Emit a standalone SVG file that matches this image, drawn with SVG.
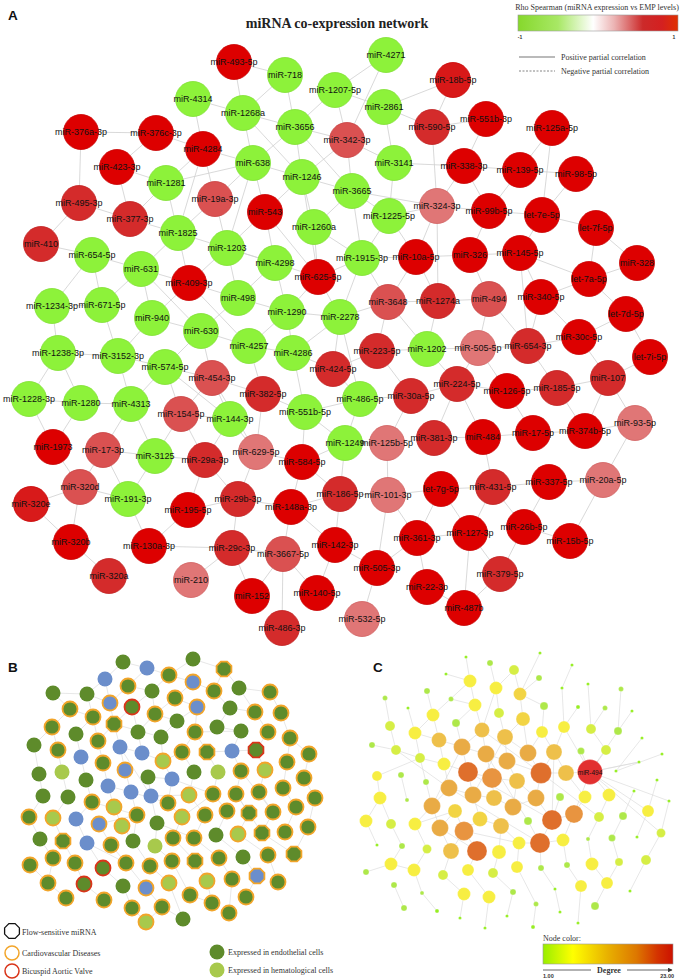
<svg xmlns="http://www.w3.org/2000/svg" xmlns:xlink="http://www.w3.org/1999/xlink" width="680" height="980" viewBox="0 0 680 980">
<defs>
<style>
.pl{font-family:"Liberation Sans",Arial,sans-serif;font-weight:bold;font-size:13.5px;fill:#111}
.ttl{font-family:"Liberation Serif","Times New Roman",serif;font-weight:bold;font-size:14px;fill:#222}
.leg{font-family:"Liberation Serif","Times New Roman",serif;font-size:8px;fill:#333}
.lbl{font-family:"Liberation Sans",Arial,sans-serif;font-size:9px;fill:#111;text-anchor:middle}
.ea{fill:none;stroke:#cfcfcf;stroke-width:0.8}
.eb{fill:none;stroke:#d6d6d6;stroke-width:0.6}
.ng circle{fill:#8df23a;stroke:#80e034;stroke-width:0.8}
.r1 circle{fill:#dd0000;stroke:#c80000;stroke-width:0.8}
.r2 circle{fill:#d42b2b;stroke:#c02020;stroke-width:0.8}
.r3 circle{fill:#da5151;stroke:#c84040;stroke-width:0.8}
.r4 circle{fill:#e07676;stroke:#d06060;stroke-width:0.8}
.bd{fill:#5e8b2b}
.bl{fill:#a8c94c}
.bu{fill:#6b8ecb}
.so{stroke:#f2a52a;stroke-width:1.8}
.sr{stroke:#d9351a;stroke-width:1.8}
.ct{fill:#96ee22}
.cg{fill:#aee84a}
.cy1{fill:#d6ee45}
.cy{fill:#f7ee42}
.cgl{fill:#f2d444}
.cgo{fill:#eec04a}
.cgd{fill:#e9ab45}
.co{fill:#e89440}
.cdo{fill:#df6f2c}
.cr{fill:#e23030}
.cn circle{stroke:#ffffff;stroke-opacity:0.4;stroke-width:0.6}
</style>
<linearGradient id="gA" x1="0" x2="1" y1="0" y2="0">
<stop offset="0" stop-color="#86d82c"/>
<stop offset="0.25" stop-color="#a8e865"/>
<stop offset="0.47" stop-color="#ffffff"/>
<stop offset="0.6" stop-color="#ecb4b4"/>
<stop offset="0.78" stop-color="#cc2a2a"/>
<stop offset="0.9" stop-color="#d42020"/>
<stop offset="1" stop-color="#e03000"/>
</linearGradient>
<linearGradient id="gC" x1="0" x2="1" y1="0" y2="0">
<stop offset="0" stop-color="#99ee00"/>
<stop offset="0.23" stop-color="#ffff00"/>
<stop offset="0.5" stop-color="#e8b000"/>
<stop offset="0.72" stop-color="#dd7700"/>
<stop offset="0.88" stop-color="#d43300"/>
<stop offset="1" stop-color="#cc1100"/>
</linearGradient>
<polygon id="oct" points="7.4,3.1 3.1,7.4 -3.1,7.4 -7.4,3.1 -7.4,-3.1 -3.1,-7.4 3.1,-7.4 7.4,-3.1"/>
<marker id="arr" viewBox="0 0 8 8" refX="7" refY="4" markerWidth="5" markerHeight="5" orient="auto"><path d="M0,0L8,4L0,8z" fill="#333"/></marker>
</defs>
<rect width="680" height="980" fill="#ffffff"/>

<text class="pl" x="8" y="20">A</text>
<text class="ttl" x="337" y="28" text-anchor="middle">miRNA co-expression network</text>
<g id="legendA">
<text class="leg" x="597" y="10" text-anchor="middle" font-size="7.5">Rho Spearman (miRNA expression vs EMP levels)</text>
<rect x="518" y="15" width="160" height="16" fill="url(#gA)" stroke="#999" stroke-width="0.6"/>
<text x="520" y="39" font-family="Liberation Sans,Arial,sans-serif" font-size="5" font-weight="bold" fill="#333" text-anchor="middle">-1</text>
<text x="674" y="39" font-family="Liberation Sans,Arial,sans-serif" font-size="5" font-weight="bold" fill="#333" text-anchor="middle">1</text>
<line x1="519" y1="57" x2="555" y2="57" stroke="#777" stroke-width="1.2"/>
<text class="leg" x="561" y="60">Positive partial correlation</text>
<line x1="519" y1="71" x2="555" y2="71" stroke="#777" stroke-width="0.9" stroke-dasharray="2,1.5"/>
<text class="leg" x="561" y="74">Negative partial correlation</text>
</g>

<g id="connectors">
<path class="ea" d="M234 62L243 113M234 62L285 75M285 75L295 127M285 75L243 113M193 99L243 113M193 99L203 149M243 113L253 163M243 113L295 127M243 113L302 177M335 90L295 127M335 90L384 107M335 90L347 140M386 55L335 90M386 55L347 140M295 127L347 140M295 127L253 163M295 127L302 177M295 127L352 191M81 132L156 133M81 132L79 203M156 133L117 167M156 133L203 149M117 167L130 219M117 167L166 183M203 149L166 183M203 149L215 199M203 149L253 163M253 163L302 177M253 163L265 212M253 163L215 199M302 177L314 227M302 177L352 191M302 177L265 212M347 140L394 163M347 140L352 191M347 140L302 177M384 107L432 127M384 107L394 163M394 163L389 216M394 163L464 166M352 191L389 216M352 191L314 227M352 191L437 206M453 80L432 127M453 80L384 107M432 127L437 206M486 119L464 166M486 119L432 127M552 128L542 215M552 128L520 170M464 166L520 170M464 166L437 206M464 166L489 211M520 170L489 211M520 170L576 174M576 174L542 215M489 211L437 206M489 211L542 215M542 215L596 228M542 215L520 253M489 211L470 255M437 206L416 257M437 206L389 216M389 216L362 258M389 216L416 257M314 227L362 258M314 227L318 277M265 212L318 277M265 212L275 263M265 212L227 248M215 199L227 248M215 199L178 233M166 183L178 233M166 183L130 219M130 219L79 203M130 219L178 233M79 203L41 244M41 244L92 255M92 255L141 269M92 255L52 306M92 255L102 305M178 233L141 269M178 233L189 283M227 248L189 283M227 248L275 263M227 248L238 298M275 263L238 298M275 263L318 277M275 263L287 312M318 277L362 258M318 277L340 317M318 277L287 312M362 258L416 257M362 258L388 302M362 258L340 317M416 257L470 255M416 257L388 302M416 257L438 301M470 255L520 253M470 255L489 299M520 253L541 297M520 253L589 279M596 228L637 263M596 228L589 279M637 263L589 279M589 279L626 314M589 279L541 297M541 297L579 337M541 297L528 346M626 314L579 337M626 314L650 357M579 337L608 378M650 357L608 378M608 378L635 423M608 378L557 388M608 378L585 431M579 337L528 346M528 346L557 388M528 346L478 348M489 299L478 348M489 299L438 301M489 299L528 346M438 301L388 302M438 301L427 349M388 302L377 351M388 302L340 317M340 317L287 312M340 317L293 353M340 317L333 369M287 312L238 298M287 312L249 346M287 312L293 353M238 298L201 331M238 298L189 283M189 283L141 269M189 283L152 318M141 269L152 318M141 269L102 305M102 305L52 306M102 305L118 356M52 306L58 353M58 353L118 356M58 353L29 399M58 353L81 403M118 356L152 318M118 356L165 367M118 356L131 404M152 318L201 331M201 331L165 367M201 331L249 346M201 331L212 378M249 346L293 353M249 346L263 394M293 353L333 369M293 353L305 412M333 369L377 351M333 369L360 399M377 351L427 349M377 351L411 396M427 349L478 348M427 349L457 384M478 348L457 384M478 348L507 391M457 384L411 396M457 384L507 391M457 384L434 438M507 391L557 388M507 391L533 433M557 388L585 431M585 431L635 423M585 431L533 433M635 423L603 480M533 433L483 437M483 437L434 438M483 437L493 487M434 438L387 443M411 396L360 399M411 396L387 443M360 399L345 443M360 399L305 412M345 443L387 443M345 443L305 412M345 443L302 462M345 443L340 494M305 412L263 394M305 412L302 462M263 394L212 378M263 394L256 452M212 378L165 367M212 378L181 414M212 378L230 419M165 367L131 404M165 367L181 414M131 404L81 403M131 404L103 450M131 404L155 456M81 403L29 399M81 403L53 447M29 399L53 447M181 414L230 419M181 414L155 456M181 414L205 460M230 419L256 452M230 419L205 460M256 452L302 462M256 452L238 499M302 462L291 507M302 462L340 494M103 450L155 456M103 450L80 487M103 450L128 499M53 447L80 487M155 456L128 499M155 456L205 460M205 460L188 510M205 460L238 499M238 499L188 510M238 499L291 507M238 499L232 548M291 507L340 494M291 507L283 554M291 507L335 545M340 494L388 495M340 494L335 545M387 443L388 495M388 495L441 489M388 495L377 568M388 495L417 538M441 489L493 487M441 489L417 538M441 489L470 533M493 487L549 482M493 487L470 533M493 487L524 527M549 482L603 480M549 482L524 527M603 480L570 541M524 527L570 541M524 527L500 574M470 533L500 574M470 533L417 538M470 533L464 608M417 538L427 587M417 538L377 568M427 587L464 608M377 568L362 619M377 568L335 545M335 545L317 593M283 554L317 593M283 554L282 628M283 554L232 548M283 554L252 596M232 548L191 580M232 548L149 546M188 510L149 546M149 546L128 499M128 499L80 487M80 487L31 504M31 504L71 542M71 542L109 576M80 487L71 542M252 596L232 548M500 574L464 608M178 233L275 263M166 183L253 163M189 283L249 346M302 177L318 277M352 191L362 258M437 206L438 301M520 253L528 346M457 384L483 437M212 378L256 452M165 367L230 419M340 317L360 399M388 302L427 349M141 269L201 331M203 149L178 233M253 163L227 248"/>
<path class="eb" d="M123 662L147 668M123 662L105 679M147 668L169 675M147 668L128 686M193 659L224 669M193 659L169 675M224 669L214 691M224 669L239 688M105 679L87 694M105 679L110 703M169 675L193 682M169 675L152 691M128 686L110 703M128 686L152 691M193 682L214 691M193 682L175 698M53 693L87 694M53 693L70 709M87 694L93 717M87 694L110 703M152 691L132 707M152 691L155 714M175 698L197 707M175 698L155 714M214 691L230 708M239 688L270 692M239 688L255 712M270 692L281 713M70 709L93 717M70 709L52 727M110 703L114 724M132 707L138 732M132 707L114 724M197 707L195 732M197 707L177 721M230 708L217 727M230 708L255 712M255 712L268 732M281 713L290 738M93 717L76 734M93 717L98 741M155 714L177 721M155 714L138 732M177 721L161 737M114 724L98 741M114 724L120 747M52 727L34 745M52 727L58 750M138 732L142 753M195 732L182 752M195 732L207 752M217 727L241 731M241 731L232 751M268 732L256 750M290 738L309 754M290 738L287 762M76 734L81 757M98 741L103 763M161 737L163 761M34 745L39 774M58 750L62 772M81 757L86 780M120 747L142 753M120 747L125 770M142 753L163 761M182 752L194 772M207 752L218 772M232 751L241 771M256 750L265 770M309 754L304 778M287 762L283 788M163 761L172 779M103 763L108 786M39 774L43 796M62 772L68 797M125 770L131 792M148 777L151 796M172 779L168 803M194 772L189 795M218 772L213 794M241 771L236 794M265 770L259 792M304 778L315 798M86 780L92 802M108 786L114 807M131 792L137 815M151 796L157 823M43 796L29 817M68 797L53 818M92 802L76 819M168 803L182 817M189 795L205 815M213 794L227 811M236 794L249 813M259 792L273 812M283 788L296 807M315 798L308 827M114 807L122 826M29 817L40 839M53 818L63 841M76 819L87 843M99 824L111 845M137 815L133 841M157 823L155 846M182 817L173 838M205 815L194 838M227 811L216 835M249 813L238 834M273 812L262 833M296 807L285 832M122 826L133 841M40 839L53 858M63 841L75 863M87 843L103 868M111 845L126 863M133 841L150 866M155 846L172 861M173 838L195 861M194 838L219 858M216 835L243 857M238 834L268 855M262 833L294 854M308 827L294 854M30 865L48 883M53 858L48 883M75 863L84 884M103 868L123 886M126 863L146 888M150 866L169 883M172 861L190 895M195 861L207 881M219 858L232 879M243 857L257 876M268 855L278 882M48 883L66 898M84 884L104 900M123 886L132 908M146 888L162 907M169 883L183 919M190 895L212 903M207 881L212 903M232 879L229 913M257 876L246 897M146 922L162 907M146 922L132 908M183 919L162 907M151 796L189 795M131 792L168 803M172 779L213 794M87 843L126 863M182 752L163 761M213 794L182 817M236 794L262 833M92 802L137 815M120 747L151 796M195 732L241 731M241 771L273 812M157 823L194 838M114 724L161 737M207 752L256 750M148 777L172 779M108 786L131 792M99 824L137 815"/>
<path class="eb" d="M466 657L470 681M540 653L520 694M490 663L496 688M514 670L520 694M514 670L496 688M446 674L470 681M572 665L562 688M539 678L520 694M470 681L475 705M470 681L433 715M496 688L499 713M496 688L482 730M520 694L523 719M520 694L544 706M427 691L433 715M385 698L390 726M408 708L415 733M451 699L475 705M475 705L482 730M475 705L456 723M499 713L505 737M544 706L542 732M562 688L564 727M588 684L591 729M621 689L618 731M578 707L564 727M605 708L591 729M632 711L618 731M433 715L439 740M433 715L415 733M523 719L528 753M523 719L505 737M456 723L462 747M390 726L396 750M415 733L439 740M415 733L420 758M482 730L486 754M482 730L462 747M505 737L507 761M505 737L528 753M542 732L554 752M542 732L528 753M564 727L554 752M564 727L590 772M591 729L606 750M618 731L590 772M372 745L396 750M396 750L420 758M439 740L444 764M439 740L462 747M462 747L468 772M462 747L486 754M486 754L492 778M486 754L507 761M507 761L517 781M507 761L541 773M528 753L541 773M554 752L566 773M554 752L541 773M581 751L590 772M606 750L590 772M642 738L616 771M662 754L616 771M420 758L426 782M420 758L444 764M444 764L449 788M444 764L468 772M468 772L473 795M468 772L492 778M492 778L494 798M492 778L517 781M541 773L536 798M541 773L566 773M566 773L590 772M566 773L585 797M590 772L609 795M639 762L590 772M377 776L380 798M401 775L407 800M426 782L432 806M517 781L513 807M517 781L536 798M449 788L473 795M449 788L432 806M473 795L494 798M473 795L480 819M494 798L513 807M513 807L536 798M536 798L552 820M560 797L552 820M585 797L574 814M609 795L599 817M634 791L623 816M657 780L648 811M380 798L366 821M380 798L391 824M432 806L440 828M432 806L415 824M455 811L464 831M455 811L440 828M480 819L464 831M480 819L501 826M501 826L519 843M528 821L540 843M552 820L540 843M552 820L574 814M574 814L563 840M599 817L588 839M623 816L612 838M648 811L637 837M669 801L661 833M366 821L377 845M391 824L402 846M415 824L427 849M440 828L451 851M464 831L477 851M464 831L451 851M501 826L499 852M519 843L540 843M540 843L563 840M563 840L567 865M612 838L619 862M661 833L646 860M391 864L414 870M402 846L391 864M427 849L414 870M451 851L443 875M477 851L468 870M499 852L493 873M519 843L517 867M540 843L541 868M592 864L588 839M366 872L391 864M443 875L464 894M468 870L489 897M493 873L513 892M517 867L536 904M541 868L555 889M567 865L581 886M592 864L607 883M619 862L607 883M646 860L630 891M394 885L404 908M422 893L437 911M464 894L460 918M489 897L485 928M513 892L507 916M536 904L533 927M555 889L560 912M581 886L578 923M607 883L595 906M414 870L422 893M482 730L541 773M468 772L552 820M449 788L540 843M505 737L473 795M486 754L528 821M462 747L432 806M554 752L552 820M590 772L574 814M590 772L661 833M590 772L669 801M440 828L477 851M464 831L519 843M590 772L648 811M590 772L639 762M541 773L599 817M396 750L449 788M415 824L455 811M377 776L420 758"/>
</g>

<g id="nodesA">
<g id="n-miR-493-5p" class="r1"><circle cx="234" cy="62" r="17.5"/><text class="lbl" x="234" y="65">miR-493-5p</text></g>
<g id="n-miR-718" class="ng"><circle cx="285" cy="75" r="17.5"/><text class="lbl" x="285" y="78">miR-718</text></g>
<g id="n-miR-4271" class="ng"><circle cx="386" cy="55" r="17.5"/><text class="lbl" x="386" y="58">miR-4271</text></g>
<g id="n-miR-1207-5p" class="ng"><circle cx="335" cy="90" r="17.5"/><text class="lbl" x="335" y="93">miR-1207-5p</text></g>
<g id="n-miR-4314" class="ng"><circle cx="193" cy="99" r="17.5"/><text class="lbl" x="193" y="102">miR-4314</text></g>
<g id="n-miR-1268a" class="ng"><circle cx="243" cy="113" r="17.5"/><text class="lbl" x="243" y="116">miR-1268a</text></g>
<g id="n-miR-2861" class="ng"><circle cx="384" cy="107" r="17.5"/><text class="lbl" x="384" y="110">miR-2861</text></g>
<g id="n-miR-18b-5p" class="r1"><circle cx="453" cy="80" r="17.5" style="fill:#d81818"/><text class="lbl" x="453" y="83">miR-18b-5p</text></g>
<g id="n-miR-3656" class="ng"><circle cx="295" cy="127" r="17.5"/><text class="lbl" x="295" y="130">miR-3656</text></g>
<g id="n-miR-342-3p" class="r3"><circle cx="347" cy="140" r="17.5"/><text class="lbl" x="347" y="143">miR-342-3p</text></g>
<g id="n-miR-590-5p" class="r2"><circle cx="432" cy="127" r="17.5"/><text class="lbl" x="432" y="130">miR-590-5p</text></g>
<g id="n-miR-551b-3p" class="r1"><circle cx="486" cy="119" r="17.5"/><text class="lbl" x="486" y="122">miR-551b-3p</text></g>
<g id="n-miR-125a-5p" class="r1"><circle cx="552" cy="128" r="17.5"/><text class="lbl" x="552" y="131">miR-125a-5p</text></g>
<g id="n-miR-376a-3p" class="r1"><circle cx="81" cy="132" r="17.5"/><text class="lbl" x="81" y="135">miR-376a-3p</text></g>
<g id="n-miR-376c-3p" class="r1"><circle cx="156" cy="133" r="17.5"/><text class="lbl" x="156" y="136">miR-376c-3p</text></g>
<g id="n-miR-4284" class="r1"><circle cx="203" cy="149" r="17.5"/><text class="lbl" x="203" y="152">miR-4284</text></g>
<g id="n-miR-423-3p" class="r1"><circle cx="117" cy="167" r="17.5"/><text class="lbl" x="117" y="170">miR-423-3p</text></g>
<g id="n-miR-638" class="ng"><circle cx="253" cy="163" r="17.5"/><text class="lbl" x="253" y="166">miR-638</text></g>
<g id="n-miR-1246" class="ng"><circle cx="302" cy="177" r="17.5"/><text class="lbl" x="302" y="180">miR-1246</text></g>
<g id="n-miR-3141" class="ng"><circle cx="394" cy="163" r="17.5"/><text class="lbl" x="394" y="166">miR-3141</text></g>
<g id="n-miR-338-3p" class="r1"><circle cx="464" cy="166" r="17.5"/><text class="lbl" x="464" y="169">miR-338-3p</text></g>
<g id="n-miR-139-5p" class="r1"><circle cx="520" cy="170" r="17.5"/><text class="lbl" x="520" y="173">miR-139-5p</text></g>
<g id="n-miR-98-5p" class="r1"><circle cx="576" cy="174" r="17.5"/><text class="lbl" x="576" y="177">miR-98-5p</text></g>
<g id="n-miR-1281" class="ng"><circle cx="166" cy="183" r="17.5"/><text class="lbl" x="166" y="186">miR-1281</text></g>
<g id="n-miR-19a-3p" class="r3"><circle cx="215" cy="199" r="17.5"/><text class="lbl" x="215" y="202">miR-19a-3p</text></g>
<g id="n-miR-495-3p" class="r2"><circle cx="79" cy="203" r="17.5"/><text class="lbl" x="79" y="206">miR-495-3p</text></g>
<g id="n-miR-3665" class="ng"><circle cx="352" cy="191" r="17.5"/><text class="lbl" x="352" y="194">miR-3665</text></g>
<g id="n-miR-377-3p" class="r2"><circle cx="130" cy="219" r="17.5"/><text class="lbl" x="130" y="222">miR-377-3p</text></g>
<g id="n-miR-543" class="r1"><circle cx="265" cy="212" r="17.5"/><text class="lbl" x="265" y="215">miR-543</text></g>
<g id="n-miR-1225-5p" class="ng"><circle cx="389" cy="216" r="17.5"/><text class="lbl" x="389" y="219">miR-1225-5p</text></g>
<g id="n-miR-324-3p" class="r4"><circle cx="437" cy="206" r="17.5"/><text class="lbl" x="437" y="209">miR-324-3p</text></g>
<g id="n-miR-99b-5p" class="r1"><circle cx="489" cy="211" r="17.5"/><text class="lbl" x="489" y="214">miR-99b-5p</text></g>
<g id="n-let-7e-5p" class="r1"><circle cx="542" cy="215" r="17.5"/><text class="lbl" x="542" y="218">let-7e-5p</text></g>
<g id="n-let-7f-5p" class="r1"><circle cx="596" cy="228" r="17.5"/><text class="lbl" x="596" y="231">let-7f-5p</text></g>
<g id="n-miR-1260a" class="ng"><circle cx="314" cy="227" r="17.5"/><text class="lbl" x="314" y="230">miR-1260a</text></g>
<g id="n-miR-1825" class="ng"><circle cx="178" cy="233" r="17.5"/><text class="lbl" x="178" y="236">miR-1825</text></g>
<g id="n-miR-410" class="r2"><circle cx="41" cy="244" r="17.5"/><text class="lbl" x="41" y="247">miR-410</text></g>
<g id="n-miR-654-5p" class="ng"><circle cx="92" cy="255" r="17.5"/><text class="lbl" x="92" y="258">miR-654-5p</text></g>
<g id="n-miR-1203" class="ng"><circle cx="227" cy="248" r="17.5"/><text class="lbl" x="227" y="251">miR-1203</text></g>
<g id="n-miR-631" class="ng"><circle cx="141" cy="269" r="17.5"/><text class="lbl" x="141" y="272">miR-631</text></g>
<g id="n-miR-4298" class="ng"><circle cx="275" cy="263" r="17.5"/><text class="lbl" x="275" y="266">miR-4298</text></g>
<g id="n-miR-409-3p" class="r1"><circle cx="189" cy="283" r="17.5"/><text class="lbl" x="189" y="286">miR-409-3p</text></g>
<g id="n-miR-625-5p" class="r1"><circle cx="318" cy="277" r="17.5"/><text class="lbl" x="318" y="280">miR-625-5p</text></g>
<g id="n-miR-1915-3p" class="ng"><circle cx="362" cy="258" r="17.5"/><text class="lbl" x="362" y="261">miR-1915-3p</text></g>
<g id="n-miR-10a-5p" class="r1"><circle cx="416" cy="257" r="17.5"/><text class="lbl" x="416" y="260">miR-10a-5p</text></g>
<g id="n-miR-326" class="r1"><circle cx="470" cy="255" r="17.5"/><text class="lbl" x="470" y="258">miR-326</text></g>
<g id="n-miR-145-5p" class="r1"><circle cx="520" cy="253" r="17.5"/><text class="lbl" x="520" y="256">miR-145-5p</text></g>
<g id="n-miR-328" class="r1"><circle cx="637" cy="263" r="17.5"/><text class="lbl" x="637" y="266">miR-328</text></g>
<g id="n-let-7a-5p" class="r1"><circle cx="589" cy="279" r="17.5"/><text class="lbl" x="589" y="282">let-7a-5p</text></g>
<g id="n-miR-1234-3p" class="ng"><circle cx="52" cy="306" r="17.5"/><text class="lbl" x="52" y="309">miR-1234-3p</text></g>
<g id="n-miR-671-5p" class="ng"><circle cx="102" cy="305" r="17.5"/><text class="lbl" x="102" y="308">miR-671-5p</text></g>
<g id="n-miR-498" class="ng"><circle cx="238" cy="298" r="17.5"/><text class="lbl" x="238" y="301">miR-498</text></g>
<g id="n-miR-940" class="ng"><circle cx="152" cy="318" r="17.5"/><text class="lbl" x="152" y="321">miR-940</text></g>
<g id="n-miR-1290" class="ng"><circle cx="287" cy="312" r="17.5"/><text class="lbl" x="287" y="315">miR-1290</text></g>
<g id="n-miR-2278" class="ng"><circle cx="340" cy="317" r="17.5"/><text class="lbl" x="340" y="320">miR-2278</text></g>
<g id="n-miR-3648" class="r3"><circle cx="388" cy="302" r="17.5"/><text class="lbl" x="388" y="305">miR-3648</text></g>
<g id="n-miR-1274a" class="r2"><circle cx="438" cy="301" r="17.5"/><text class="lbl" x="438" y="304">miR-1274a</text></g>
<g id="n-miR-494" class="r3"><circle cx="489" cy="299" r="17.5"/><text class="lbl" x="489" y="302">miR-494</text></g>
<g id="n-miR-340-5p" class="r1"><circle cx="541" cy="297" r="17.5"/><text class="lbl" x="541" y="300">miR-340-5p</text></g>
<g id="n-let-7d-5p" class="r1"><circle cx="626" cy="314" r="17.5"/><text class="lbl" x="626" y="317">let-7d-5p</text></g>
<g id="n-miR-630" class="ng"><circle cx="201" cy="331" r="17.5"/><text class="lbl" x="201" y="334">miR-630</text></g>
<g id="n-miR-30c-5p" class="r1"><circle cx="579" cy="337" r="17.5"/><text class="lbl" x="579" y="340">miR-30c-5p</text></g>
<g id="n-miR-4257" class="ng"><circle cx="249" cy="346" r="17.5"/><text class="lbl" x="249" y="349">miR-4257</text></g>
<g id="n-miR-4286" class="ng"><circle cx="293" cy="353" r="17.5"/><text class="lbl" x="293" y="356">miR-4286</text></g>
<g id="n-miR-1238-3p" class="ng"><circle cx="58" cy="353" r="17.5"/><text class="lbl" x="58" y="356">miR-1238-3p</text></g>
<g id="n-miR-3152-3p" class="ng"><circle cx="118" cy="356" r="17.5"/><text class="lbl" x="118" y="359">miR-3152-3p</text></g>
<g id="n-miR-574-5p" class="ng"><circle cx="165" cy="367" r="17.5"/><text class="lbl" x="165" y="370">miR-574-5p</text></g>
<g id="n-miR-223-5p" class="r2"><circle cx="377" cy="351" r="17.5"/><text class="lbl" x="377" y="354">miR-223-5p</text></g>
<g id="n-miR-1202" class="ng"><circle cx="427" cy="349" r="17.5"/><text class="lbl" x="427" y="352">miR-1202</text></g>
<g id="n-miR-505-5p" class="r4"><circle cx="478" cy="348" r="17.5"/><text class="lbl" x="478" y="351">miR-505-5p</text></g>
<g id="n-miR-654-3p" class="r2"><circle cx="528" cy="346" r="17.5"/><text class="lbl" x="528" y="349">miR-654-3p</text></g>
<g id="n-let-7i-5p" class="r1"><circle cx="650" cy="357" r="17.5"/><text class="lbl" x="650" y="360">let-7i-5p</text></g>
<g id="n-miR-424-5p" class="r2"><circle cx="333" cy="369" r="17.5"/><text class="lbl" x="333" y="372">miR-424-5p</text></g>
<g id="n-miR-454-3p" class="r3"><circle cx="212" cy="378" r="17.5"/><text class="lbl" x="212" y="381">miR-454-3p</text></g>
<g id="n-miR-107" class="r2"><circle cx="608" cy="378" r="17.5"/><text class="lbl" x="608" y="381">miR-107</text></g>
<g id="n-miR-224-5p" class="r2"><circle cx="457" cy="384" r="17.5"/><text class="lbl" x="457" y="387">miR-224-5p</text></g>
<g id="n-miR-126-5p" class="r1"><circle cx="507" cy="391" r="17.5"/><text class="lbl" x="507" y="394">miR-126-5p</text></g>
<g id="n-miR-185-5p" class="r2"><circle cx="557" cy="388" r="17.5"/><text class="lbl" x="557" y="391">miR-185-5p</text></g>
<g id="n-miR-382-5p" class="r2"><circle cx="263" cy="394" r="17.5"/><text class="lbl" x="263" y="397">miR-382-5p</text></g>
<g id="n-miR-1228-3p" class="ng"><circle cx="29" cy="399" r="17.5"/><text class="lbl" x="29" y="402">miR-1228-3p</text></g>
<g id="n-miR-1280" class="ng"><circle cx="81" cy="403" r="17.5"/><text class="lbl" x="81" y="406">miR-1280</text></g>
<g id="n-miR-4313" class="ng"><circle cx="131" cy="404" r="17.5"/><text class="lbl" x="131" y="407">miR-4313</text></g>
<g id="n-miR-486-5p" class="ng"><circle cx="360" cy="399" r="17.5"/><text class="lbl" x="360" y="402">miR-486-5p</text></g>
<g id="n-miR-30a-5p" class="r2"><circle cx="411" cy="396" r="17.5"/><text class="lbl" x="411" y="399">miR-30a-5p</text></g>
<g id="n-miR-154-5p" class="r3"><circle cx="181" cy="414" r="17.5"/><text class="lbl" x="181" y="417">miR-154-5p</text></g>
<g id="n-miR-144-3p" class="ng"><circle cx="230" cy="419" r="17.5"/><text class="lbl" x="230" y="422">miR-144-3p</text></g>
<g id="n-miR-551b-5p" class="ng"><circle cx="305" cy="412" r="17.5"/><text class="lbl" x="305" y="415">miR-551b-5p</text></g>
<g id="n-miR-93-5p" class="r4"><circle cx="635" cy="423" r="17.5"/><text class="lbl" x="635" y="426">miR-93-5p</text></g>
<g id="n-miR-374b-5p" class="r1"><circle cx="585" cy="431" r="17.5"/><text class="lbl" x="585" y="434">miR-374b-5p</text></g>
<g id="n-miR-17-5p" class="r1"><circle cx="533" cy="433" r="17.5"/><text class="lbl" x="533" y="436">miR-17-5p</text></g>
<g id="n-miR-484" class="r1"><circle cx="483" cy="437" r="17.5"/><text class="lbl" x="483" y="440">miR-484</text></g>
<g id="n-miR-381-3p" class="r2"><circle cx="434" cy="438" r="17.5"/><text class="lbl" x="434" y="441">miR-381-3p</text></g>
<g id="n-miR-1249" class="ng"><circle cx="345" cy="443" r="17.5"/><text class="lbl" x="345" y="446">miR-1249</text></g>
<g id="n-miR-125b-5p" class="r4"><circle cx="387" cy="443" r="17.5"/><text class="lbl" x="387" y="446">miR-125b-5p</text></g>
<g id="n-miR-1973" class="r1"><circle cx="53" cy="447" r="17.5"/><text class="lbl" x="53" y="450">miR-1973</text></g>
<g id="n-miR-17-3p" class="r3"><circle cx="103" cy="450" r="17.5"/><text class="lbl" x="103" y="453">miR-17-3p</text></g>
<g id="n-miR-3125" class="ng"><circle cx="155" cy="456" r="17.5"/><text class="lbl" x="155" y="459">miR-3125</text></g>
<g id="n-miR-29a-3p" class="r2"><circle cx="205" cy="460" r="17.5"/><text class="lbl" x="205" y="463">miR-29a-3p</text></g>
<g id="n-miR-629-5p" class="r4"><circle cx="256" cy="452" r="17.5"/><text class="lbl" x="256" y="455">miR-629-5p</text></g>
<g id="n-miR-584-5p" class="r1"><circle cx="302" cy="462" r="17.5"/><text class="lbl" x="302" y="465">miR-584-5p</text></g>
<g id="n-miR-20a-5p" class="r4"><circle cx="603" cy="480" r="17.5"/><text class="lbl" x="603" y="483">miR-20a-5p</text></g>
<g id="n-miR-337-5p" class="r1"><circle cx="549" cy="482" r="17.5"/><text class="lbl" x="549" y="485">miR-337-5p</text></g>
<g id="n-miR-431-5p" class="r2"><circle cx="493" cy="487" r="17.5"/><text class="lbl" x="493" y="490">miR-431-5p</text></g>
<g id="n-let-7g-5p" class="r1"><circle cx="441" cy="489" r="17.5"/><text class="lbl" x="441" y="492">let-7g-5p</text></g>
<g id="n-miR-101-3p" class="r4"><circle cx="388" cy="495" r="17.5"/><text class="lbl" x="388" y="498">miR-101-3p</text></g>
<g id="n-miR-186-5p" class="r2"><circle cx="340" cy="494" r="17.5"/><text class="lbl" x="340" y="497">miR-186-5p</text></g>
<g id="n-miR-320d" class="r3"><circle cx="80" cy="487" r="17.5"/><text class="lbl" x="80" y="490">miR-320d</text></g>
<g id="n-miR-320e" class="r1"><circle cx="31" cy="504" r="17.5" style="fill:#d81a1a"/><text class="lbl" x="31" y="507">miR-320e</text></g>
<g id="n-miR-191-3p" class="ng"><circle cx="128" cy="499" r="17.5"/><text class="lbl" x="128" y="502">miR-191-3p</text></g>
<g id="n-miR-195-5p" class="r1"><circle cx="188" cy="510" r="17.5"/><text class="lbl" x="188" y="513">miR-195-5p</text></g>
<g id="n-miR-29b-3p" class="r2"><circle cx="238" cy="499" r="17.5"/><text class="lbl" x="238" y="502">miR-29b-3p</text></g>
<g id="n-miR-148a-3p" class="r1"><circle cx="291" cy="507" r="17.5"/><text class="lbl" x="291" y="510">miR-148a-3p</text></g>
<g id="n-miR-26b-5p" class="r1"><circle cx="524" cy="527" r="17.5"/><text class="lbl" x="524" y="530">miR-26b-5p</text></g>
<g id="n-miR-127-3p" class="r1"><circle cx="470" cy="533" r="17.5"/><text class="lbl" x="470" y="536">miR-127-3p</text></g>
<g id="n-miR-361-3p" class="r1"><circle cx="417" cy="538" r="17.5"/><text class="lbl" x="417" y="541">miR-361-3p</text></g>
<g id="n-miR-15b-5p" class="r1"><circle cx="570" cy="541" r="17.5"/><text class="lbl" x="570" y="544">miR-15b-5p</text></g>
<g id="n-miR-142-3p" class="r1"><circle cx="335" cy="545" r="17.5"/><text class="lbl" x="335" y="548">miR-142-3p</text></g>
<g id="n-miR-320b" class="r1"><circle cx="71" cy="542" r="17.5"/><text class="lbl" x="71" y="545">miR-320b</text></g>
<g id="n-miR-130a-3p" class="r1"><circle cx="149" cy="546" r="17.5"/><text class="lbl" x="149" y="549">miR-130a-3p</text></g>
<g id="n-miR-29c-3p" class="r2"><circle cx="232" cy="548" r="17.5"/><text class="lbl" x="232" y="551">miR-29c-3p</text></g>
<g id="n-miR-3667-5p" class="r3"><circle cx="283" cy="554" r="17.5"/><text class="lbl" x="283" y="557">miR-3667-5p</text></g>
<g id="n-miR-505-3p" class="r1"><circle cx="377" cy="568" r="17.5"/><text class="lbl" x="377" y="571">miR-505-3p</text></g>
<g id="n-miR-379-5p" class="r2"><circle cx="500" cy="574" r="17.5"/><text class="lbl" x="500" y="577">miR-379-5p</text></g>
<g id="n-miR-320a" class="r2"><circle cx="109" cy="576" r="17.5"/><text class="lbl" x="109" y="579">miR-320a</text></g>
<g id="n-miR-210" class="r4"><circle cx="191" cy="580" r="17.5"/><text class="lbl" x="191" y="583">miR-210</text></g>
<g id="n-miR-22-3p" class="r1"><circle cx="427" cy="587" r="17.5"/><text class="lbl" x="427" y="590">miR-22-3p</text></g>
<g id="n-miR-140-5p" class="r1"><circle cx="317" cy="593" r="17.5"/><text class="lbl" x="317" y="596">miR-140-5p</text></g>
<g id="n-miR-152" class="r1"><circle cx="252" cy="596" r="17.5"/><text class="lbl" x="252" y="599">miR-152</text></g>
<g id="n-miR-487b" class="r1"><circle cx="464" cy="608" r="17.5"/><text class="lbl" x="464" y="611">miR-487b</text></g>
<g id="n-miR-532-5p" class="r4"><circle cx="362" cy="619" r="17.5"/><text class="lbl" x="362" y="622">miR-532-5p</text></g>
<g id="n-miR-486-3p" class="r2"><circle cx="282" cy="628" r="17.5"/><text class="lbl" x="282" y="631">miR-486-3p</text></g>
</g>

<text class="pl" x="8" y="672">B</text>
<g id="nodesB">
<circle id="b1" class="bd" cx="123" cy="662" r="7.5"/>
<circle id="b2" class="bu" cx="147" cy="668" r="7.5"/>
<circle id="b3" class="bd" cx="193" cy="659" r="7.5"/>
<use id="b4" href="#oct" x="224" y="669" class="bd so"/>
<circle id="b5" class="bu" cx="105" cy="679" r="7.5"/>
<circle id="b6" class="bd so" cx="169" cy="675" r="7.5"/>
<circle id="b7" class="bd so" cx="128" cy="686" r="7.5"/>
<circle id="b8" class="bu so" cx="193" cy="682" r="7.5"/>
<circle id="b9" class="bd" cx="53" cy="693" r="7.5"/>
<circle id="b10" class="bd" cx="87" cy="694" r="7.5"/>
<circle id="b11" class="bd" cx="152" cy="691" r="7.5"/>
<circle id="b12" class="bd so" cx="175" cy="698" r="7.5"/>
<circle id="b13" class="bd so" cx="214" cy="691" r="7.5"/>
<circle id="b14" class="bd" cx="239" cy="688" r="7.5"/>
<circle id="b15" class="bd so" cx="270" cy="692" r="7.5"/>
<circle id="b16" class="bd so" cx="70" cy="709" r="7.5"/>
<circle id="b17" class="bu so" cx="110" cy="703" r="7.5"/>
<circle id="b18" class="bd sr" cx="132" cy="707" r="7.5"/>
<circle id="b19" class="bu so" cx="197" cy="707" r="7.5"/>
<circle id="b20" class="bd" cx="230" cy="708" r="7.5"/>
<circle id="b21" class="bd so" cx="255" cy="712" r="7.5"/>
<circle id="b22" class="bd so" cx="281" cy="713" r="7.5"/>
<circle id="b23" class="bd so" cx="93" cy="717" r="7.5"/>
<circle id="b24" class="bd so" cx="155" cy="714" r="7.5"/>
<circle id="b25" class="bd" cx="177" cy="721" r="7.5"/>
<use id="b26" href="#oct" x="114" y="724" class="bd so"/>
<circle id="b27" class="bd so" cx="52" cy="727" r="7.5"/>
<circle id="b28" class="bd" cx="138" cy="732" r="7.5"/>
<circle id="b29" class="bd so" cx="195" cy="732" r="7.5"/>
<circle id="b30" class="bd" cx="217" cy="727" r="7.5"/>
<circle id="b31" class="bd" cx="241" cy="731" r="7.5"/>
<circle id="b32" class="bd so" cx="268" cy="732" r="7.5"/>
<circle id="b33" class="bd so" cx="290" cy="738" r="7.5"/>
<circle id="b34" class="bd" cx="76" cy="734" r="7.5"/>
<circle id="b35" class="bd so" cx="98" cy="741" r="7.5"/>
<circle id="b36" class="bd" cx="161" cy="737" r="7.5"/>
<circle id="b37" class="bd" cx="34" cy="745" r="7.5"/>
<circle id="b38" class="bd so" cx="58" cy="750" r="7.5"/>
<circle id="b39" class="bu" cx="81" cy="757" r="7.5"/>
<circle id="b40" class="bu" cx="120" cy="747" r="7.5"/>
<circle id="b41" class="bu" cx="142" cy="753" r="7.5"/>
<circle id="b42" class="bd so" cx="182" cy="752" r="7.5"/>
<use id="b43" href="#oct" x="207" y="752" class="bd so"/>
<circle id="b44" class="bu" cx="232" cy="751" r="7.5"/>
<use id="b45" href="#oct" x="256" y="750" class="bd sr"/>
<circle id="b46" class="bd so" cx="309" cy="754" r="7.5"/>
<circle id="b47" class="bd so" cx="287" cy="762" r="7.5"/>
<circle id="b48" class="bl so" cx="163" cy="761" r="7.5"/>
<circle id="b49" class="bd so" cx="103" cy="763" r="7.5"/>
<circle id="b50" class="bd" cx="39" cy="774" r="7.5"/>
<circle id="b51" class="bl" cx="62" cy="772" r="7.5"/>
<circle id="b52" class="bu so" cx="125" cy="770" r="7.5"/>
<circle id="b53" class="bd" cx="148" cy="777" r="7.5"/>
<circle id="b54" class="bu" cx="172" cy="779" r="7.5"/>
<circle id="b55" class="bd" cx="194" cy="772" r="7.5"/>
<circle id="b56" class="bl" cx="218" cy="772" r="7.5"/>
<circle id="b57" class="bd so" cx="241" cy="771" r="7.5"/>
<circle id="b58" class="bl so" cx="265" cy="770" r="7.5"/>
<circle id="b59" class="bd so" cx="304" cy="778" r="7.5"/>
<circle id="b60" class="bd" cx="86" cy="780" r="7.5"/>
<circle id="b61" class="bu" cx="108" cy="786" r="7.5"/>
<circle id="b62" class="bu" cx="131" cy="792" r="7.5"/>
<circle id="b63" class="bu" cx="151" cy="796" r="7.5"/>
<circle id="b64" class="bd" cx="43" cy="796" r="7.5"/>
<circle id="b65" class="bd" cx="68" cy="797" r="7.5"/>
<circle id="b66" class="bd so" cx="92" cy="802" r="7.5"/>
<circle id="b67" class="bd so" cx="168" cy="803" r="7.5"/>
<circle id="b68" class="bl so" cx="189" cy="795" r="7.5"/>
<circle id="b69" class="bd so" cx="213" cy="794" r="7.5"/>
<circle id="b70" class="bd so" cx="236" cy="794" r="7.5"/>
<circle id="b71" class="bd so" cx="259" cy="792" r="7.5"/>
<circle id="b72" class="bd so" cx="283" cy="788" r="7.5"/>
<circle id="b73" class="bd so" cx="315" cy="798" r="7.5"/>
<circle id="b74" class="bl so" cx="114" cy="807" r="7.5"/>
<circle id="b75" class="bd so" cx="29" cy="817" r="7.5"/>
<circle id="b76" class="bl so" cx="53" cy="818" r="7.5"/>
<circle id="b77" class="bu" cx="76" cy="819" r="7.5"/>
<circle id="b78" class="bu so" cx="99" cy="824" r="7.5"/>
<circle id="b79" class="bd so" cx="137" cy="815" r="7.5"/>
<circle id="b80" class="bd" cx="157" cy="823" r="7.5"/>
<circle id="b81" class="bl so" cx="182" cy="817" r="7.5"/>
<circle id="b82" class="bd so" cx="205" cy="815" r="7.5"/>
<circle id="b83" class="bd so" cx="227" cy="811" r="7.5"/>
<use id="b84" href="#oct" x="249" y="813" class="bd so"/>
<circle id="b85" class="bd so" cx="273" cy="812" r="7.5"/>
<circle id="b86" class="bd so" cx="296" cy="807" r="7.5"/>
<circle id="b87" class="bl so" cx="122" cy="826" r="7.5"/>
<circle id="b88" class="bd" cx="40" cy="839" r="7.5"/>
<use id="b89" href="#oct" x="63" y="841" class="bd so"/>
<circle id="b90" class="bu" cx="87" cy="843" r="7.5"/>
<circle id="b91" class="bd so" cx="111" cy="845" r="7.5"/>
<circle id="b92" class="bd" cx="133" cy="841" r="7.5"/>
<circle id="b93" class="bl" cx="155" cy="846" r="7.5"/>
<circle id="b94" class="bd so" cx="173" cy="838" r="7.5"/>
<circle id="b95" class="bd so" cx="194" cy="838" r="7.5"/>
<circle id="b96" class="bd" cx="216" cy="835" r="7.5"/>
<circle id="b97" class="bl so" cx="238" cy="834" r="7.5"/>
<use id="b98" href="#oct" x="262" y="833" class="bd so"/>
<circle id="b99" class="bd so" cx="285" cy="832" r="7.5"/>
<circle id="b100" class="bd so" cx="308" cy="827" r="7.5"/>
<circle id="b101" class="bd so" cx="53" cy="858" r="7.5"/>
<circle id="b102" class="bd so" cx="75" cy="863" r="7.5"/>
<circle id="b103" class="bd sr" cx="103" cy="868" r="7.5"/>
<circle id="b104" class="bd so" cx="126" cy="863" r="7.5"/>
<circle id="b105" class="bd so" cx="150" cy="866" r="7.5"/>
<circle id="b106" class="bd so" cx="172" cy="861" r="7.5"/>
<use id="b107" href="#oct" x="195" y="861" class="bd so"/>
<circle id="b108" class="bd so" cx="219" cy="858" r="7.5"/>
<circle id="b109" class="bd" cx="243" cy="857" r="7.5"/>
<circle id="b110" class="bd so" cx="268" cy="855" r="7.5"/>
<use id="b111" href="#oct" x="294" y="854" class="bd so"/>
<circle id="b112" class="bd so" cx="30" cy="865" r="7.5"/>
<circle id="b113" class="bd so" cx="48" cy="883" r="7.5"/>
<circle id="b114" class="bd sr" cx="84" cy="884" r="7.5"/>
<circle id="b115" class="bd" cx="123" cy="886" r="7.5"/>
<circle id="b116" class="bu so" cx="146" cy="888" r="7.5"/>
<circle id="b117" class="bl so" cx="169" cy="883" r="7.5"/>
<circle id="b118" class="bl so" cx="207" cy="881" r="7.5"/>
<circle id="b119" class="bd so" cx="232" cy="879" r="7.5"/>
<use id="b120" href="#oct" x="257" y="876" class="bu so"/>
<circle id="b121" class="bd so" cx="278" cy="882" r="7.5"/>
<circle id="b122" class="bd so" cx="66" cy="898" r="7.5"/>
<circle id="b123" class="bd so" cx="104" cy="900" r="7.5"/>
<circle id="b124" class="bd so" cx="132" cy="908" r="7.5"/>
<circle id="b125" class="bd so" cx="162" cy="907" r="7.5"/>
<circle id="b126" class="bd so" cx="190" cy="895" r="7.5"/>
<circle id="b127" class="bd so" cx="212" cy="903" r="7.5"/>
<circle id="b128" class="bd so" cx="246" cy="897" r="7.5"/>
<circle id="b129" class="bd so" cx="229" cy="913" r="7.5"/>
<circle id="b130" class="bl so" cx="146" cy="922" r="7.5"/>
<circle id="b131" class="bd" cx="183" cy="919" r="7.5"/>
</g>
<g id="legendB">
<use href="#oct" x="12" y="931" fill="none" stroke="#111" stroke-width="1.3"/>
<text class="leg" x="22" y="934.5" font-size="8.5" fill="#333">Flow-sensitive miRNA</text>
<circle cx="12" cy="953" r="7" fill="none" stroke="#f2a52a" stroke-width="1.5"/>
<text class="leg" x="22" y="956" font-size="8.5" fill="#333">Cardiovascular Diseases</text>
<circle cx="12" cy="971" r="7" fill="none" stroke="#d9351a" stroke-width="1.5"/>
<text class="leg" x="22" y="974" font-size="8.5" fill="#333">Bicuspid Aortic Valve</text>
<circle cx="217" cy="952" r="7.5" class="bd"/>
<text class="leg" x="228" y="955" font-size="8.5" fill="#333">Expressed in endothelial cells</text>
<circle cx="217" cy="970" r="7.5" class="bl"/>
<text class="leg" x="228" y="973" font-size="8.5" fill="#333">Expressed in hematological cells</text>
</g>

<text class="pl" x="373" y="672">C</text>
<g id="nodesC" class="cn">
<circle id="c1" class="ct" cx="466" cy="657" r="1.6"/>
<circle id="c2" class="ct" cx="540" cy="653" r="1.6"/>
<circle id="c3" class="cg" cx="490" cy="663" r="3"/>
<circle id="c4" class="cy1" cx="514" cy="670" r="5"/>
<circle id="c5" class="ct" cx="446" cy="674" r="1.6"/>
<circle id="c6" class="ct" cx="572" cy="665" r="1.6"/>
<circle id="c7" class="cg" cx="539" cy="678" r="3"/>
<circle id="c8" class="cy" cx="470" cy="681" r="6.5"/>
<circle id="c9" class="cy" cx="496" cy="688" r="6.5"/>
<circle id="c10" class="cgl" cx="520" cy="694" r="6.5"/>
<circle id="c11" class="cg" cx="427" cy="691" r="3"/>
<circle id="c12" class="cg" cx="385" cy="698" r="2.5"/>
<circle id="c13" class="ct" cx="408" cy="708" r="1.6"/>
<circle id="c14" class="cg" cx="451" cy="699" r="2.5"/>
<circle id="c15" class="cy" cx="475" cy="705" r="6.5"/>
<circle id="c16" class="cy1" cx="499" cy="713" r="5"/>
<circle id="c17" class="cg" cx="544" cy="706" r="4"/>
<circle id="c18" class="ct" cx="562" cy="688" r="1.6"/>
<circle id="c19" class="ct" cx="588" cy="684" r="1.6"/>
<circle id="c20" class="cg" cx="621" cy="689" r="2.5"/>
<circle id="c21" class="ct" cx="578" cy="707" r="2"/>
<circle id="c22" class="cg" cx="605" cy="708" r="2.5"/>
<circle id="c23" class="ct" cx="632" cy="711" r="1.6"/>
<circle id="c24" class="cy" cx="433" cy="715" r="6.5"/>
<circle id="c25" class="cgl" cx="523" cy="719" r="7"/>
<circle id="c26" class="cg" cx="456" cy="723" r="4"/>
<circle id="c27" class="cy1" cx="390" cy="726" r="5"/>
<circle id="c28" class="cy" cx="415" cy="733" r="6.5"/>
<circle id="c29" class="cgo" cx="482" cy="730" r="7.5"/>
<circle id="c30" class="cgo" cx="505" cy="737" r="8"/>
<circle id="c31" class="cy" cx="542" cy="732" r="6"/>
<circle id="c32" class="cy" cx="564" cy="727" r="6"/>
<circle id="c33" class="cy1" cx="591" cy="729" r="5"/>
<circle id="c34" class="cg" cx="618" cy="731" r="4"/>
<circle id="c35" class="cg" cx="372" cy="745" r="3"/>
<circle id="c36" class="cy1" cx="396" cy="750" r="5"/>
<circle id="c37" class="cgo" cx="439" cy="740" r="7.5"/>
<circle id="c38" class="cgd" cx="462" cy="747" r="8.5"/>
<circle id="c39" class="cgd" cx="486" cy="754" r="8.5"/>
<circle id="c40" class="cgd" cx="507" cy="761" r="8.5"/>
<circle id="c41" class="cgd" cx="528" cy="753" r="8.5"/>
<circle id="c42" class="cgo" cx="554" cy="752" r="8"/>
<circle id="c43" class="cg" cx="581" cy="751" r="3.5"/>
<circle id="c44" class="cy1" cx="606" cy="750" r="5"/>
<circle id="c45" class="ct" cx="642" cy="738" r="1.6"/>
<circle id="c46" class="ct" cx="662" cy="754" r="1.6"/>
<circle id="c47" class="cy1" cx="420" cy="758" r="5"/>
<circle id="c48" class="cy" cx="444" cy="764" r="6.5"/>
<circle id="c49" class="cdo" cx="468" cy="772" r="10"/>
<circle id="c50" class="co" cx="492" cy="778" r="10"/>
<circle id="c51" class="cdo" cx="541" cy="773" r="10.5"/>
<circle id="c52" class="cgo" cx="566" cy="773" r="8"/>
<g id="c53"><circle class="cr" cx="590" cy="772" r="12.5"/><text x="590" y="774.5" font-family="Liberation Sans,Arial,sans-serif" font-size="6.5" fill="#111" text-anchor="middle">miR-494</text></g>
<circle id="c54" class="ct" cx="639" cy="762" r="1.6"/>
<circle id="c55" class="ct" cx="616" cy="771" r="1.6"/>
<circle id="c56" class="cy" cx="377" cy="776" r="5"/>
<circle id="c57" class="cg" cx="401" cy="775" r="3"/>
<circle id="c58" class="cg" cx="426" cy="782" r="3"/>
<circle id="c59" class="cgo" cx="517" cy="781" r="8"/>
<circle id="c60" class="cgd" cx="449" cy="788" r="8.5"/>
<circle id="c61" class="cgd" cx="473" cy="795" r="8.5"/>
<circle id="c62" class="cgo" cx="494" cy="798" r="8"/>
<circle id="c63" class="cgd" cx="513" cy="807" r="8.5"/>
<circle id="c64" class="cgd" cx="536" cy="798" r="8.5"/>
<circle id="c65" class="cg" cx="560" cy="797" r="4"/>
<circle id="c66" class="cy" cx="585" cy="797" r="6.5"/>
<circle id="c67" class="cy" cx="609" cy="795" r="6.5"/>
<circle id="c68" class="ct" cx="634" cy="791" r="1.6"/>
<circle id="c69" class="ct" cx="657" cy="780" r="1.6"/>
<circle id="c70" class="cy" cx="380" cy="798" r="6.5"/>
<circle id="c71" class="cg" cx="407" cy="800" r="2"/>
<circle id="c72" class="cgd" cx="432" cy="806" r="8.5"/>
<circle id="c73" class="cgl" cx="455" cy="811" r="7"/>
<circle id="c74" class="cgl" cx="480" cy="819" r="7.5"/>
<circle id="c75" class="cgo" cx="501" cy="826" r="8"/>
<circle id="c76" class="cg" cx="528" cy="821" r="4"/>
<circle id="c77" class="cdo" cx="552" cy="820" r="10"/>
<circle id="c78" class="co" cx="574" cy="814" r="9"/>
<circle id="c79" class="cy1" cx="599" cy="817" r="5"/>
<circle id="c80" class="cg" cx="623" cy="816" r="4"/>
<circle id="c81" class="cy" cx="648" cy="811" r="6"/>
<circle id="c82" class="ct" cx="669" cy="801" r="1.6"/>
<circle id="c83" class="cy" cx="366" cy="821" r="6.5"/>
<circle id="c84" class="cy1" cx="391" cy="824" r="5"/>
<circle id="c85" class="cy" cx="415" cy="824" r="6.5"/>
<circle id="c86" class="cgd" cx="440" cy="828" r="8.5"/>
<circle id="c87" class="co" cx="464" cy="831" r="9.5"/>
<circle id="c88" class="cy" cx="519" cy="843" r="6.5"/>
<circle id="c89" class="cdo" cx="540" cy="843" r="10"/>
<circle id="c90" class="cy" cx="563" cy="840" r="6.5"/>
<circle id="c91" class="cg" cx="588" cy="839" r="2"/>
<circle id="c92" class="cg" cx="612" cy="838" r="3.5"/>
<circle id="c93" class="ct" cx="637" cy="837" r="1.6"/>
<circle id="c94" class="cy1" cx="661" cy="833" r="4.5"/>
<circle id="c95" class="ct" cx="377" cy="845" r="1.6"/>
<circle id="c96" class="cg" cx="402" cy="846" r="3"/>
<circle id="c97" class="cy1" cx="427" cy="849" r="4.5"/>
<circle id="c98" class="cgo" cx="451" cy="851" r="8"/>
<circle id="c99" class="cdo" cx="477" cy="851" r="10"/>
<circle id="c100" class="cy" cx="499" cy="852" r="7"/>
<circle id="c101" class="cy" cx="391" cy="864" r="6.5"/>
<circle id="c102" class="cy" cx="414" cy="870" r="6.5"/>
<circle id="c103" class="cg" cx="567" cy="865" r="3"/>
<circle id="c104" class="cy" cx="592" cy="864" r="6.5"/>
<circle id="c105" class="cy1" cx="619" cy="862" r="4"/>
<circle id="c106" class="cy1" cx="646" cy="860" r="5"/>
<circle id="c107" class="cg" cx="366" cy="872" r="3"/>
<circle id="c108" class="cy1" cx="443" cy="875" r="5"/>
<circle id="c109" class="cy" cx="468" cy="870" r="6"/>
<circle id="c110" class="cy1" cx="493" cy="873" r="5"/>
<circle id="c111" class="cy" cx="517" cy="867" r="6"/>
<circle id="c112" class="cg" cx="541" cy="868" r="3"/>
<circle id="c113" class="cg" cx="394" cy="885" r="3"/>
<circle id="c114" class="cg" cx="422" cy="893" r="2"/>
<circle id="c115" class="cy" cx="464" cy="894" r="6.5"/>
<circle id="c116" class="cy" cx="489" cy="897" r="6.5"/>
<circle id="c117" class="cg" cx="513" cy="892" r="3"/>
<circle id="c118" class="ct" cx="555" cy="889" r="1.6"/>
<circle id="c119" class="cy" cx="581" cy="886" r="6"/>
<circle id="c120" class="cy" cx="607" cy="883" r="6"/>
<circle id="c121" class="ct" cx="630" cy="891" r="1.6"/>
<circle id="c122" class="cg" cx="404" cy="908" r="3"/>
<circle id="c123" class="ct" cx="437" cy="911" r="2"/>
<circle id="c124" class="ct" cx="460" cy="918" r="1.6"/>
<circle id="c125" class="ct" cx="485" cy="928" r="1.6"/>
<circle id="c126" class="ct" cx="507" cy="916" r="1.6"/>
<circle id="c127" class="cg" cx="536" cy="904" r="2.5"/>
<circle id="c128" class="ct" cx="533" cy="927" r="2"/>
<circle id="c129" class="ct" cx="560" cy="912" r="1.6"/>
<circle id="c130" class="ct" cx="578" cy="923" r="1.6"/>
<circle id="c131" class="cg" cx="595" cy="906" r="4"/>
</g>
<g id="legendC">
<text class="leg" x="543" y="941">Node color:</text>
<rect x="543" y="944" width="130" height="20" fill="url(#gC)" stroke="#999" stroke-width="0.6"/>
<line x1="543" y1="970" x2="591" y2="970" stroke="#555" stroke-width="0.9"/>
<text class="leg" x="609" y="972.5" text-anchor="middle" font-weight="bold" font-size="7">Degree</text>
<line x1="627" y1="970" x2="672" y2="970" stroke="#555" stroke-width="0.9" marker-end="url(#arr)"/>
<text x="543" y="978" font-family="Liberation Sans,Arial,sans-serif" font-size="5.5" font-weight="bold" fill="#333">1.00</text>
<text x="674" y="978" font-family="Liberation Sans,Arial,sans-serif" font-size="5.5" font-weight="bold" fill="#333" text-anchor="end">23.00</text>
</g>
</svg>
